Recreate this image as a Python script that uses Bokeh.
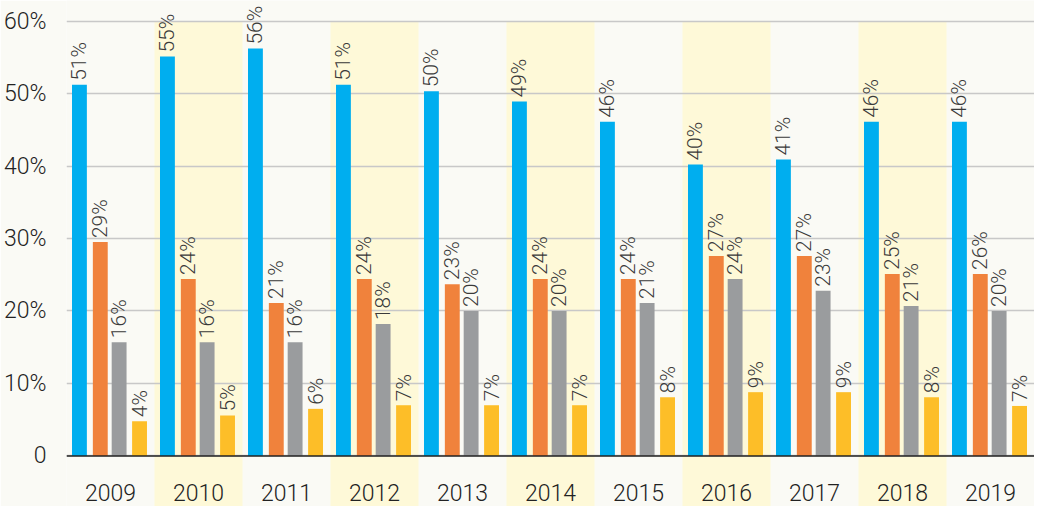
import math
from bokeh.plotting import figure
from bokeh.models import Range1d, FactorRange, FixedTicker, ColumnDataSource, Span
from bokeh.transform import dodge
from bokeh.core.properties import value
from bokeh.embed import file_html
from bokeh.resources import INLINE

years = ["2009", "2010", "2011", "2012", "2013", "2014", "2015", "2016", "2017", "2018", "2019"]
highlighted_years = ["2010", "2012", "2014", "2016", "2018"]

blue = [51.2, 55.1, 56.2, 51.2, 50.3, 48.9, 46.1, 40.2, 40.9, 46.1, 46.1]
orange = [29.5, 24.4, 21.1, 24.4, 23.7, 24.4, 24.4, 27.6, 27.6, 25.1, 25.1]
grey = [15.7, 15.7, 15.7, 18.2, 20.0, 20.0, 21.1, 24.4, 22.8, 20.7, 20.0]
yellow = [4.8, 5.6, 6.5, 7.0, 7.0, 7.0, 8.1, 8.8, 8.8, 8.1, 6.9]

blue_labels = [51, 55, 56, 51, 50, 49, 46, 40, 41, 46, 46]
orange_labels = [29, 24, 21, 24, 23, 24, 24, 27, 27, 25, 26]
grey_labels = [16, 16, 16, 18, 20, 20, 21, 24, 23, 21, 20]
yellow_labels = [4, 5, 6, 7, 7, 7, 8, 9, 9, 8, 7]

y_ticks = [0, 10, 20, 30, 40, 50, 60]
y_tick_labels = ["0", "10%", "20%", "30%", "40%", "50%", "60%"]

BG = "#FAFAF5"
BAND = "#FEF9D8"
FONT = "Roboto Light"
YEAR_LABEL_Y = -5.0

p = figure(
    x_range=FactorRange(*years, range_padding=0),
    y_range=Range1d(-6.97, 62.83),
    width=1034, height=506,
    output_backend="svg", toolbar_location=None,
    min_border_left=63, min_border_right=0, min_border_top=0, min_border_bottom=0,
    background_fill_color=BG, border_fill_color=BG,
)
p.outline_line_color = None
p.xaxis.visible = False

# alternating bands
band_src = ColumnDataSource(dict(x=highlighted_years))
bands = p.vbar(x="x", width=1.0, bottom=-10, top=60, source=band_src,
               fill_color=BAND, line_color=None)
bands.level = "image"

series = [
    (blue, blue_labels, "#00AEEF", -0.353),
    (orange, orange_labels, "#F0823C", -0.116),
    (grey, grey_labels, "#9A9C9E", 0.098),
    (yellow, yellow_labels, "#FDBE28", 0.33),
]

for vals, labs, color, off in series:
    src = ColumnDataSource(dict(year=years, v=vals, t=[f"{l}%" for l in labs]))
    p.vbar(x=dodge("year", off, range=p.x_range), top="v", bottom=0, width=0.169,
           source=src, fill_color=color, line_color=None)
    p.text(x=dodge("year", off, range=p.x_range), y="v", text="t", source=src,
           angle=math.pi / 2, text_align="left", text_baseline="middle",
           y_offset=-4, text_font=value(FONT), text_font_size="21px",
           text_color="#3a3a3a")

# baseline at 0
p.add_layout(Span(location=0, dimension="width", line_color="#222222", line_width=1.5))

# year labels under the baseline
year_src = ColumnDataSource(dict(year=years, y=[YEAR_LABEL_Y] * len(years)))
p.text(x="year", y="y", text="year", source=year_src, text_align="center",
       text_baseline="middle", text_font=value(FONT), text_font_size="23px",
       text_color="#222222")

# y axis
p.yaxis.ticker = FixedTicker(ticks=y_ticks)
p.yaxis.major_label_overrides = {t: l for t, l in zip(y_ticks, y_tick_labels)}
p.yaxis.axis_line_color = None
p.yaxis.major_tick_line_color = None
p.yaxis.minor_tick_line_color = None
p.yaxis.major_label_text_font = FONT
p.yaxis.major_label_text_font_size = "23px"
p.yaxis.major_label_text_color = "#222222"
p.yaxis.major_label_standoff = 14

p.ygrid.ticker = FixedTicker(ticks=y_ticks)
p.ygrid.grid_line_color = "#C8C8C8"
p.ygrid.grid_line_width = 1.5
p.xgrid.grid_line_color = None

open("out.html", "w").write(file_html(p, INLINE))
